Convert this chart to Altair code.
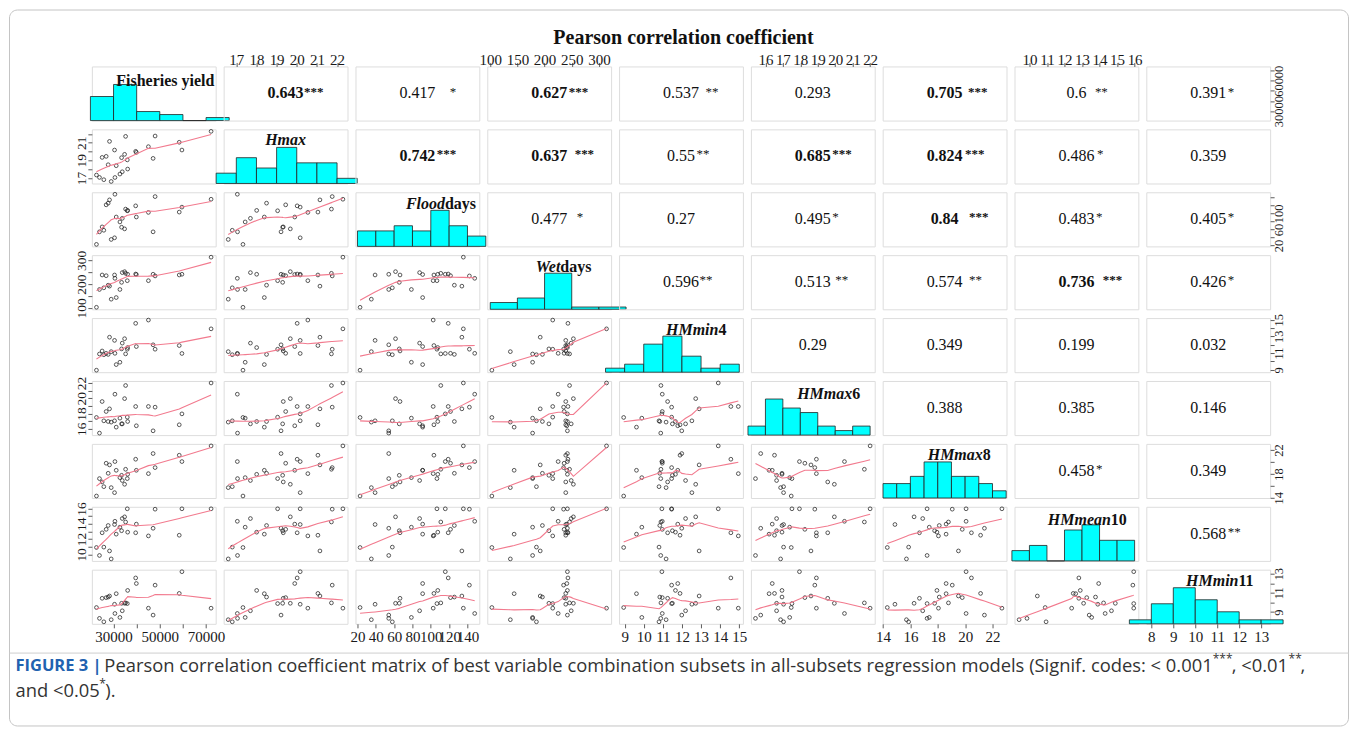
import json
import numpy as np
import pandas as pd
import altair as alt

# ------------------------------------------------------------------ data
var_names = ["Fisheries yield", "Hmax", "Flooddays", "Wetdays", "HMmin4",
             "HMmax6", "HMmax8", "HMmean10", "HMmin11"]

fisheries_yield = [22609, 23913, 25072, 25797, 26812, 27681, 28261, 28986, 30435, 30600,
                   31159, 32754, 33478, 33768, 34783, 35217, 35942, 36100, 39565, 39855,
                   45072, 47101, 47971, 58406, 59565, 72174]
hmax = [17.33, 17.06, 19.33, 16.8, 19.45, 18.5, 21.15, 16.6, 20.17, 17.05,
        18.39, 17.44, 19.3, 17.7, 19.68, 21.72, 19.05, 18.01, 20.02, 19.9,
        20.55, 19.22, 21.76, 21.05, 20.17, 22.29]
flooddays = [22.8, 54.1, 66.4, 58, 121.5, 125.7, 133.9, 35.1, 39.2, 147.9,
             91.1, 78.8, 65.6, 87.8, 61.5, 110.9, 106.7, 107.6, 119, 91.1,
             102.6, 54.1, 142.1, 103.4, 115.8, 135.5]
wetdays = [103, 178, 239, 185, 236, 196, 192, 137, 239, 225,
           144, 178, 208, 249, 253, 246, 215, 242, 243, 241,
           215, 242, 235, 239, 242, 314]
hmmin4 = [8.95, 10.89, 11.25, 10.8, 10.97, 10.84, 12.9, 11.17, 12.52, 10.97,
          9.62, 9.9, 11.5, 12.19, 12.72, 10.9, 11.46, 11.66, 14.56, 11.78,
          14.95, 11.99, 11.46, 11.9, 10.95, 13.9]
hmmax6 = [17.48, 15.43, 19.57, 17.04, 18.26, 16.95, 18.61, 16.87, 17.04, 20.53,
          16.21, 17.39, 16.64, 16.64, 19.95, 21.67, 17.52, 16.95, 18.92, 16.39,
          18.92, 15.73, 18.83, 16.52, 17.95, 22.0]
hmmax8 = [14.31, 17.22, 16.66, 15.87, 19.79, 18.11, 19.51, 15.71, 14.87, 20.07,
          18.61, 17.38, 17.77, 16.9, 16.27, 18.78, 17.22, 17.94, 20.46, 18.61,
          18.05, 21.41, 19.06, 21.13, 20.07, 22.69]
hmmean10 = [10.9, 9.86, 12.82, 10.95, 13.27, 13.77, 10.45, 9.41, 13.9, 14.32,
            12.64, 13.55, 13.09, 14.68, 14.9, 14.23, 15.95, 12.9, 12.82, 13.95,
            12.41, 13.41, 15.9, 12.5, 15.95, 15.95]
hmmin11 = [9.47, 8.34, 10.43, 7.98, 10.5, 10.56, 10.67, 8.2, 9.81, 8.85,
           10.91, 8.44, 9.91, 9.13, 9.91, 9.95, 9.88, 11.25, 12.55, 11.97,
           9.4, 8.68, 11.8, 10.94, 13.2, 9.4]

series = [fisheries_yield, hmax, flooddays, wetdays, hmmin4, hmmax6, hmmax8, hmmean10, hmmin11]

# axis tick values and which of them carry a label
ticks = [[30000, 40000, 50000, 60000, 70000], [17, 18, 19, 20, 21, 22],
         [20, 40, 60, 80, 100, 120, 140], [100, 150, 200, 250, 300],
         [9, 10, 11, 12, 13, 14, 15], [16, 17, 18, 19, 20, 21, 22],
         [14, 16, 18, 20, 22], [10, 11, 12, 13, 14, 15, 16], [8, 9, 10, 11, 12, 13]]
outer_labels = [[30000, 50000, 70000], [17, 18, 19, 20, 21, 22],
                [20, 40, 60, 80, 100, 120, 140], [100, 150, 200, 250, 300],
                [9, 10, 11, 12, 13, 14, 15], [16, 17, 18, 19, 20, 21, 22],
                [14, 16, 18, 20, 22], [10, 11, 12, 13, 14, 15, 16], [8, 9, 10, 11, 12, 13]]
side_labels = [[30000, 60000], [17, 19, 21], [20, 60, 100], [100, 200, 300],
               [9, 11, 13, 15], [16, 18, 20, 22], [14, 18, 22], [10, 12, 14, 16], [9, 11, 13]]
hist_breaks = [list(range(20000, 80001, 10000)), list(range(16, 24)), list(range(20, 161, 20)),
               list(range(100, 351, 50)), list(range(8, 16)), list(range(15, 23)),
               list(range(14, 24)), list(range(9, 17)), list(range(7, 15))]

# correlation labels of the upper triangle (row-major)
corr_text = ["0.643", "0.417", "0.627", "0.537", "0.293", "0.705", "0.6", "0.391",
             "0.742", "0.637", "0.55", "0.685", "0.824", "0.486", "0.359",
             "0.477", "0.27", "0.495", "0.84", "0.483", "0.405",
             "0.596", "0.513", "0.574", "0.736", "0.426",
             "0.29", "0.349", "0.199", "0.032",
             "0.388", "0.385", "0.146",
             "0.458", "0.349",
             "0.568"]
corr_stars = ["***", "*", "***", "**", "", "***", "**", "*",
              "***", "***", "**", "***", "***", "*", "",
              "*", "", "*", "***", "*", "*",
              "**", "**", "**", "***", "*",
              "", "", "", "",
              "", "", "",
              "*", "",
              "**"]
corr_bold = [1, 0, 1, 0, 0, 1, 0, 0,
             1, 1, 0, 1, 1, 0, 0,
             0, 0, 0, 1, 0, 0,
             0, 0, 0, 1, 0,
             0, 0, 0, 0,
             0, 0, 0,
             0, 0,
             0]

# diagonal name labels: italic part, upright part
name_italic = ["", "Hmax", "Flood", "Wet", "HMmin", "HMmax", "HMmax", "HMmean", "HMmin"]
name_upright = ["Fisheries yield", "", "days", "days", "4", "6", "8", "10", "11"]

title_text = "Pearson correlation coefficient"
caption_main = ("Pearson correlation coefficient matrix of best variable combination subsets in "
                "all-subsets regression models (Signif. codes: < 0.001")

# ------------------------------------------------------------------ styles / layout
SERIF = "Liberation Serif"
SANS = "Open Sans"
PW, PH = 124, 54.2
SP = 8
PINK = "#f27a8e"
OX, OY = 90.5, 64.5      # absolute position of the first panel
star_gap = [0, 14, 1, 6, 0, 5, 8, 1,
            1, 7, 1, 1, 2, 2, 0,
            9, 0, 1, 10, 1, 1,
            0, 4, 6, 8, 1,
            0, 0, 0, 0,
            0, 0, 0,
            1, 0,
            1]
name_split = [24.5, 82.4, 89.6, 73.2, 99.5, 101.4, 100.2, 96.5, 92.3]
name_y = [14.5, 10.5, 11.8, 12.2, 11.7, 12.8, 11.6, 12.8, 11.2]

df = pd.DataFrame({f"v{k}": vals for k, vals in enumerate(series)})
lo, hi, mid = [], [], []
for vals in series:
    a = np.array(vals, dtype=float)
    rng = a.max() - a.min()
    lo.append(float(a.min() - 0.04 * rng))
    hi.append(float(a.max() + 0.04 * rng))
    mid.append(float((a.min() + a.max()) / 2))


def scale(k):
    return alt.Scale(domain=[lo[k], hi[k]], nice=False, zero=False)


def axis_for(k, orient):
    labs = outer_labels[k] if orient in ("top", "bottom") else side_labels[k]
    expr = f"indexof({json.dumps(labs)}, datum.value) >= 0 ? datum.label : ''"
    kw = dict(orient=orient, values=ticks[k], format="d", labelExpr=expr, title=None,
              grid=False, domain=False, ticks=True, tickSize=4, tickColor="#333",
              tickWidth=0.8, labelFont=SERIF, labelFontSize=15, labelColor="#1a1a1a",
              labelOverlap=False, labelFlush=False)
    if orient == "top":
        kw.update(labelBaseline="alphabetic", labelAlign="center", labelPadding=-2.5)
    elif orient == "bottom":
        kw.update(labelBaseline="top", labelAlign="center", labelPadding=2)
    elif orient == "left":
        kw.update(labelAngle=270, labelAlign="center", labelBaseline="bottom", labelPadding=-1,
                  labelFontSize=13.5)
    else:
        kw.update(labelAngle=270, labelAlign="center", labelBaseline="top", labelPadding=-2,
                  labelFontSize=12.5)
    return alt.Axis(**kw)


def xa(r, c):
    if r == 0 and c % 2 == 1:
        return axis_for(c, "top")
    if r == 8 and c % 2 == 0:
        return axis_for(c, "bottom")
    return None


def ya(r, c):
    if c == 0 and r % 2 == 1:
        return axis_for(r, "left")
    if c == 8 and r % 2 == 0:
        return axis_for(r, "right")
    return None


def scatter(r, c):
    X = alt.X(f"v{c}:Q", scale=scale(c), axis=xa(r, c))
    Y = alt.Y(f"v{r}:Q", scale=scale(r), axis=ya(r, c))
    pts = alt.Chart(df).mark_point(shape="circle", filled=False, size=14, strokeWidth=0.75,
                                   color="#222", opacity=1).encode(x=X, y=Y)
    sm = alt.Chart(df).transform_loess(f"v{c}", f"v{r}", bandwidth=0.67).mark_line(
        color=PINK, strokeWidth=1.1).encode(x=X, y=Y)
    return alt.layer(pts, sm).properties(width=PW, height=PH)


def upper(r, c, i):
    tdf = pd.DataFrame({"t": [corr_text[i]], "s": [corr_stars[i]]})
    X = alt.XDatum(mid[c], type="quantitative", scale=scale(c), axis=xa(r, c))
    Y = alt.YDatum(mid[r], type="quantitative", scale=scale(r), axis=ya(r, c))
    weight = "bold" if corr_bold[i] else "normal"
    num = alt.Chart(tdf).mark_text(font=SERIF, fontSize=16, fontWeight=weight, color="#111",
                                   align="center", baseline="middle").encode(x=X, y=Y, text="t:N")
    layers = [num]
    if corr_stars[i]:
        txt = corr_text[i]
        w = 8 * sum(ch.isdigit() for ch in txt) + 4
        st = alt.Chart(tdf).mark_text(font=SERIF, fontSize=13, fontWeight=weight, color="#111",
                                      align="left", baseline="middle", dx=w / 2 + star_gap[i] + 0.5,
                                      dy=-2).encode(x=X, y=Y, text="s:N")
        layers.append(st)
    return alt.layer(*layers).properties(width=PW, height=PH)


def decorations():
    """Figure frame, title and caption, positioned relative to the first panel."""
    cb = alt.Chart(pd.DataFrame({"a": [0]}))

    def ax(x):
        return x - OX

    def ay(y):
        return y - OY

    frame = cb.mark_rect(fillOpacity=0, stroke="#c4c4c4", strokeWidth=1, cornerRadius=8).encode(
        x=alt.value(ax(8)), x2=alt.value(ax(1349)), y=alt.value(ay(8)), y2=alt.value(ay(725)))
    sep = cb.mark_rule(color="#cfcfcf", strokeWidth=1).encode(
        x=alt.value(ax(8)), x2=alt.value(ax(1349)), y=alt.value(ay(652)))
    title = cb.mark_text(font=SERIF, fontSize=20, fontWeight="bold", color="#111",
                         align="center", baseline="middle").encode(
        x=alt.value(ax(683)), y=alt.value(ay(36)), text=alt.value(title_text))

    def cap(txt, x, y, size=18.4, weight="normal", color="#333", dy=0):
        return cb.mark_text(font=SANS, fontSize=size, fontWeight=weight, color=color, align="left",
                            baseline="middle", dy=dy).encode(
            x=alt.value(ax(x)), y=alt.value(ay(y)), text=alt.value(txt))

    return [frame, sep, title,
            cap("FIGURE 3 |", 14, 665, size=16.5, weight="bold", color="#2162b0"),
            cap(caption_main, 103, 665),
            cap("***", 1213, 665, size=12, dy=-7),
            cap(", <0.01", 1232, 665),
            cap("**", 1289, 665, size=12, dy=-7),
            cap(",", 1301, 665),
            cap("and <0.05", 14, 690),
            cap("*", 98, 690, size=12, dy=-7),
            cap(").", 104, 690)]


def diag(k):
    counts, edges = np.histogram(np.array(series[k], dtype=float), bins=hist_breaks[k])
    hdf = pd.DataFrame({"b0": edges[:-1], "b1": edges[1:], "h": counts / counts.max()})
    X = alt.X("b0:Q", scale=scale(k), axis=xa(k, k))
    bars = alt.Chart(hdf).mark_rect(fill="#00FFFF", stroke="#222", strokeWidth=0.8).encode(
        x=X, x2="b1:Q", y=alt.Y("h:Q", scale=alt.Scale(domain=[0, 1.5]), axis=None),
        y2=alt.datum(0))
    ndf = pd.DataFrame({"i": [name_italic[k]], "u": [name_upright[k]]})
    layers = [bars]
    if name_italic[k]:
        layers.append(alt.Chart(ndf).mark_text(font=SERIF, fontSize=16, fontWeight="bold",
                                               fontStyle="italic", align="right", baseline="middle",
                                               color="#111").encode(
            x=alt.value(name_split[k]), y=alt.value(name_y[k]), text="i:N"))
    if name_upright[k]:
        layers.append(alt.Chart(ndf).mark_text(font=SERIF, fontSize=16, fontWeight="bold",
                                               align="left", baseline="middle",
                                               color="#111").encode(
            x=alt.value(name_split[k]), y=alt.value(name_y[k]), text="u:N"))
    if k == 0:
        layers = decorations() + layers
    if k == 8:
        inv = alt.Chart(df).mark_point(opacity=0).encode(
            x=alt.X("v8:Q", scale=scale(8), axis=xa(8, 8)),
            y=alt.Y("v8:Q", scale=scale(8), axis=ya(8, 8)))
        layers.append(inv)
        return alt.layer(*layers).resolve_scale(y="independent").properties(width=PW, height=PH)
    return alt.layer(*layers).properties(width=PW, height=PH)


panels = []
idx = 0
for r in range(9):
    for c in range(9):
        if r == c:
            panels.append(diag(r))
        elif r > c:
            panels.append(scatter(r, c))
        else:
            panels.append(upper(r, c, idx))
            idx += 1

chart = alt.concat(*panels, columns=9, spacing=SP, bounds="flush").properties(
    padding={"left": 8, "top": 8, "right": 6, "bottom": 7}
).configure_view(stroke="#555", strokeWidth=1, fill="white").configure(background="white")

chart.save("out.html", embed_options={"renderer": "svg", "actions": False})
